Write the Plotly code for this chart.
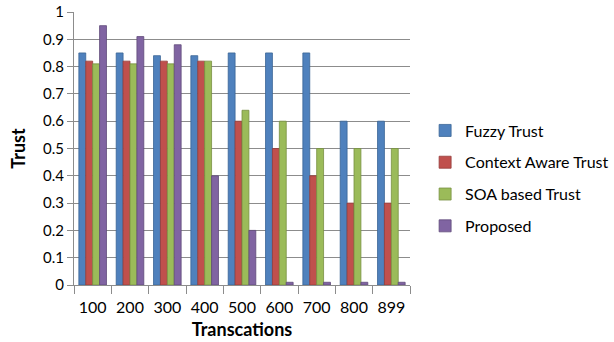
import plotly.graph_objects as go

# Transaction counts on the x axis
transactions = ["100", "200", "300", "400", "500", "600", "700", "800", "899"]

# Trust values per model
fuzzy_trust = [0.85, 0.85, 0.84, 0.84, 0.85, 0.85, 0.85, 0.60, 0.60]
context_aware_trust = [0.82, 0.82, 0.82, 0.82, 0.60, 0.50, 0.40, 0.30, 0.30]
soa_based_trust = [0.81, 0.81, 0.81, 0.82, 0.64, 0.60, 0.50, 0.50, 0.50]
proposed = [0.95, 0.91, 0.88, 0.40, 0.20, 0.01, 0.01, 0.01, 0.01]

series = [
    ("Fuzzy Trust", fuzzy_trust, "#4F81BD", "#3A6595"),
    ("Context Aware Trust", context_aware_trust, "#C0504D", "#943C3A"),
    ("SOA based Trust", soa_based_trust, "#9BBB59", "#779141"),
    ("Proposed", proposed, "#8064A2", "#5F4A7A"),
]

font_family = "Lato, 'Open Sans', sans-serif"

fig = go.Figure()
for i, (name, vals, color, edge) in enumerate(series):
    fig.add_trace(go.Bar(
        x=transactions,
        y=vals,
        name=name,
        legendgroup=f"g{i}",
        marker=dict(color=color, line=dict(color=edge, width=0.8)),
    ))

fig.update_layout(
    width=614,
    height=342,
    margin=dict(l=74, r=204, t=12, b=57, autoexpand=False),
    paper_bgcolor="white",
    plot_bgcolor="white",
    barmode="group",
    bargap=0.26,
    bargroupgap=0,
    font=dict(family=font_family, size=15, color="black"),
    showlegend=True,
    legend=dict(
        x=1.045, y=0.39, xanchor="left", yanchor="middle",
        font=dict(family=font_family, size=16, color="black"),
        traceorder="grouped",
        tracegroupgap=8,
        itemwidth=30,
    ),
    xaxis=dict(
        title=dict(text="<b>Transcations</b>", font=dict(size=18), standoff=8),
        showline=True, linecolor="#8C8C8C", linewidth=1,
        ticks="outside", tickson="boundaries", ticklen=8, tickcolor="#8C8C8C",
        showgrid=False,
        tickangle=0,
        ticklabelstandoff=8,
        tickfont=dict(size=16),
    ),
    yaxis=dict(
        title=dict(text="<b>Trust</b>", font=dict(size=18), standoff=12),
        range=[0, 1.0],
        dtick=0.1,
        tickformat="~g",
        showline=True, linecolor="#8C8C8C", linewidth=1,
        ticks="outside", ticklen=6, tickcolor="#8C8C8C",
        showgrid=True, gridcolor="#8C8C8C", gridwidth=1,
        zeroline=False,
        tickfont=dict(size=15),
    ),
)

fig.write_html("out.html")
